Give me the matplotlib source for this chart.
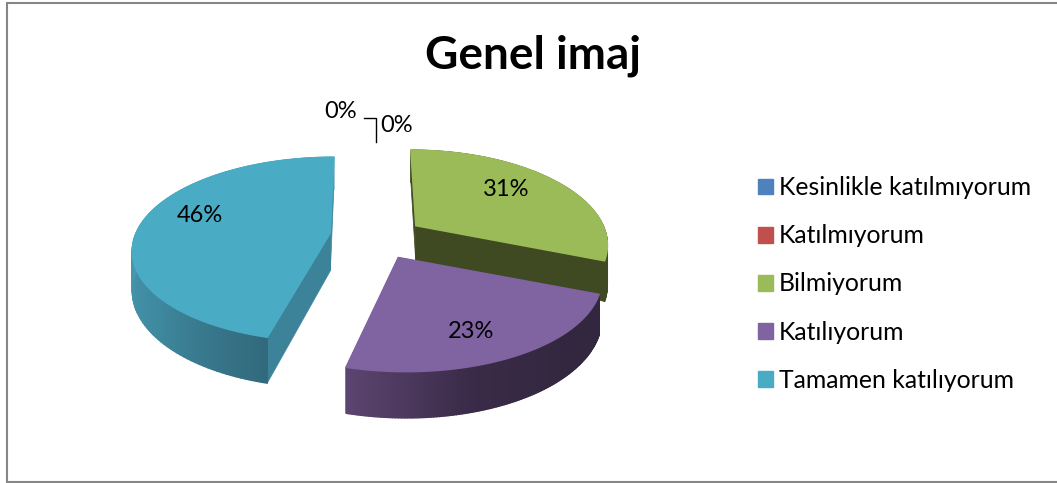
import matplotlib
matplotlib.use('Agg')
import matplotlib.pyplot as plt
import matplotlib.patches as mpatches
from matplotlib.collections import PolyCollection
from matplotlib.colors import LinearSegmentedColormap
import numpy as np

categories = ['Kesinlikle katılmıyorum', 'Katılmıyorum', 'Bilmiyorum', 'Katılıyorum', 'Tamamen katılıyorum']
values = [0, 0, 31, 23, 46]
colors = ['#4F81BD', '#C0504D', '#9BBB59', '#8064A2', '#4AABC5']
face_colors = ['#3A5F8C', '#8E3B39', '#3F4A22', '#33273F', '#3C8399']
rim_stops = [None, None, ['#3F4A22', '#3F4A22'], ['#33273F', '#3A2B48', '#5C4570'], ['#4898AF', '#3F8AA0', '#32697C']]

plt.rcParams['font.family'] = ['Lato', 'DejaVu Sans']

# look of the pie, in pixels
CX, CY = 377, 238
RX, RY = 197, 89
EX, EY = 47, 22      # explosion
DEPTH = 38
PERSP = 0.18
# small per slice fixes for the perspective of the original
slice_shear = [0, 0, 0.066, 0.07, -0.045]
slice_width = [1, 1, 0.95, 1.01, 0.985]
slice_height = [1, 1, 1, 1.05, 1]
slice_dy = [0, 0, 0, 0, -2.5]

fig = plt.figure(figsize=(10.57, 4.83), dpi=100)
ax = fig.add_axes([0, 0, 1, 1])
ax.set_xlim(0, 1057)
ax.set_ylim(483, 0)
ax.axis('off')

# chart frame, right side runs off the picture
ax.plot([1057, 7, 7, 1057], [3, 3, 482, 482], color='#868686', lw=1.5, solid_joinstyle='miter')


def draw_slice(k, start, end):
    mid = (start + end) / 2
    apex = (CX + EX * np.sin(mid), CY - EY * np.cos(mid) + slice_dy[k])
    th = np.linspace(start, end, 120)
    s = 1 / (1 + PERSP * np.cos(th))
    y = apex[1] - RY * slice_height[k] * np.cos(th) * s
    x = apex[0] + RX * slice_width[k] * np.sin(th) * s + slice_shear[k] * (y - apex[1])
    low = y + DEPTH * s
    side = face_colors[k]
    for i in (0, -1):
        ax.add_patch(mpatches.Polygon([apex, (x[i], y[i]), (x[i], low[i]), (apex[0], apex[1] + DEPTH)],
                                      fc=side, ec=side, lw=0.5))
    quads = [[(x[i], y[i]), (x[i + 1], y[i + 1]), (x[i + 1], low[i + 1]), (x[i], low[i])] for i in range(len(th) - 1)]
    cmap = LinearSegmentedColormap.from_list('rim', rim_stops[k])
    # the shading only runs over the front part of the rim
    deg = np.degrees(th[:-1])
    if np.degrees(start) > 180:
        shade = np.clip((270 - deg) / (270 - 194), 0, 1)
    else:
        shade = np.clip((deg - 135) / (194 - 135), 0, 1)
    cols = cmap(shade)
    ax.add_collection(PolyCollection(quads, facecolors=cols, edgecolors=cols, linewidths=1.0))
    ax.add_patch(mpatches.Polygon([apex] + list(zip(x, y)), fc=colors[k], ec=colors[k], lw=1.2))


angles = np.radians(np.cumsum([0] + values) / sum(values) * 360)
for i in [2, 4, 3]:
    draw_slice(i, angles[i], angles[i + 1])

# data labels
label_x = [341, 397, 506, 471, 200]
label_y = [111, 126, 190, 332, 216]
for v, lx, ly in zip(values, label_x, label_y):
    ax.text(lx, ly, f'{v}%', ha='center', va='center', fontsize=17, color='black')
ax.plot([364, 376, 376], [118, 118, 142], color='black', lw=1, solid_joinstyle='miter')

ax.text(533, 56, 'Genel imaj', ha='center', va='center', fontsize=33, fontweight='bold', color='black')

patches = [mpatches.Patch(color=c, label=n) for c, n in zip(colors, categories)]
ax.legend(handles=patches, loc='center left', bbox_to_anchor=(758 / 1057, 1 - 284 / 483), frameon=False,
          fontsize=17.8, handlelength=0.61, handleheight=0.61, handletextpad=0.24, labelspacing=1.016,
          borderpad=0, borderaxespad=0)

fig.savefig('out.png', dpi=100)
